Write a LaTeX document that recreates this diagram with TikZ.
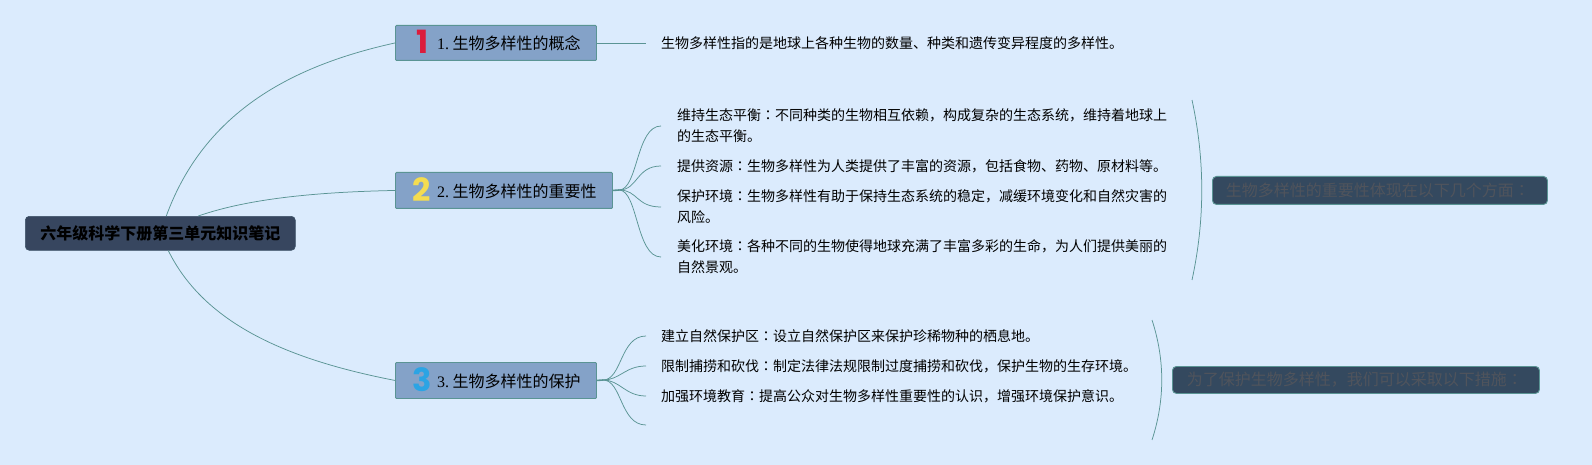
\documentclass[tikz,border=0pt]{standalone}
\usepackage{fontspec}
\setmainfont{Liberation Serif}
\newfontfamily\cjk{Noto Sans CJK SC}
\newfontfamily\cjkc{Noto Sans CJK TC}
\newfontfamily\digit{Poppins}[BoldFont={* Bold}]
\newcommand{\cc}{{\cjkc ：}}
\definecolor{bgc}{HTML}{DBEBFD}
\definecolor{linec}{HTML}{5A9494}
\definecolor{boxc}{HTML}{84A2C8}
\definecolor{rootc}{HTML}{37465F}
\definecolor{sumc}{HTML}{34495F}
\definecolor{sumt}{HTML}{50545C}
\definecolor{icona}{HTML}{DC1C3C}
\definecolor{iconb}{HTML}{F4DC50}
\definecolor{iconc}{HTML}{2CA4E4}
\tikzset{
  conn/.style={draw=linec,line width=0.75pt},
  stub/.style={draw=linec,line width=1.6pt},
  branchbox/.style={draw=linec,line width=0.9pt,fill=boxc,rounded corners=1pt,inner sep=0pt,anchor=north west},
  branchtext/.style={inner sep=0pt,anchor=base west,font=\fontsize{16}{16}\selectfont,text=black},
  icon/.style={inner sep=0pt,anchor=center,font=\digit\bfseries\fontsize{32}{32}\selectfont},
  rootbox/.style={fill=rootc,draw=rootc!85!linec,line width=0.6pt,rounded corners=4pt,inner sep=0pt,anchor=north west},
  sumbox/.style={fill=sumc,draw=linec,line width=0.9pt,rounded corners=4pt,inner sep=0pt,anchor=north west},
  sumtext/.style={inner sep=0pt,anchor=center,text=sumt,font=\cjk\fontsize{16}{16}\selectfont},
  leaf/.style={anchor=west,inner ysep=0pt,inner xsep=16pt,align=left,text=black,font=\cjk\fontsize{14}{21}\selectfont},
  leafb/.style={leaf,inner xsep=15pt},
}
\begin{document}
\begin{tikzpicture}[x=1pt,y=-1pt]
\useasboundingbox[fill=bgc] (0,0) rectangle (1592,465);
% root
\node[rootbox,minimum width=270pt,minimum height=34pt] (root) at (25,216) {};
\node[inner sep=0pt,text=black,font=\cjk\bfseries\fontsize{16}{16}\selectfont] (roottext) at (root.center) {六年级科学下册第三单元知识笔记};
% branches
\node[branchbox,minimum width=201pt,minimum height=35pt] (b1) at (395,25) {};
\node[branchbox,minimum width=217pt,minimum height=36pt] (b2) at (395,172) {};
\node[branchbox,minimum width=201pt,minimum height=36pt] (b3) at (395,362) {};
\node[icon,text=icona] (i1) at (423,42) {1};
\node[icon,text=iconb] (i2) at (422,190) {2};
\node[icon,text=iconc] (i3) at (422,380) {3};
\node[branchtext] (t1) at (437,49.5) {1.\kern3.5pt{\cjk 生物多样性的概念}};
\node[branchtext] (t2) at (437,197.5) {2.\kern3.5pt{\cjk 生物多样性的重要性}};
\node[branchtext] (t3) at (437,387.5) {3.\kern3.5pt{\cjk 生物多样性的保护}};
% root connectors
\draw[conn] ([xshift=6pt]root.north) .. controls (205,110) and (295,65) .. (b1.west);
\draw[conn] ([xshift=38pt]root.north) .. controls (250,198) and (320,192) .. (b2.west);
\draw[conn] ([xshift=8pt]root.south) .. controls (205,325) and (290,360) .. (b3.west);
% leaves
\node[leafb] (c1) at (646,43.5) {生物多样性指的是地球上各种生物的数量、种类和遗传变异程度的多样性。};
\draw[conn] (b1.east) -- (b1.east -| c1.west);
\node[leaf] (l1) at (661,126) {维持生态平衡\cc{}不同种类的生物相互依赖，构成复杂的生态系统，维持着地球上\\的生态平衡。};
\node[leaf] (l2) at (661,166) {提供资源\cc{}生物多样性为人类提供了丰富的资源，包括食物、药物、原材料等。};
\node[leaf] (l3) at (661,207) {保护环境\cc{}生物多样性有助于保持生态系统的稳定，减缓环境变化和自然灾害的\\风险。};
\node[leaf] (l4) at (661,257) {美化环境\cc{}各种不同的生物使得地球充满了丰富多彩的生命，为人们提供美丽的\\自然景观。};
\coordinate (f2) at (619,190);
\draw[stub] (b2.east) -- (f2);
\foreach \n/\y in {l1/126,l2/166,l3/207,l4/257}{
  \draw[conn] (f2) .. controls (638,190) and (636,\y) .. (\n.west);
}
\node[leafb] (m1) at (646,336) {建立自然保护区\cc{}设立自然保护区来保护珍稀物种的栖息地。};
\node[leafb] (m2) at (646,366) {限制捕捞和砍伐\cc{}制定法律法规限制过度捕捞和砍伐，保护生物的生存环境。};
\node[leafb] (m3) at (646,396) {加强环境教育\cc{}提高公众对生物多样性重要性的认识，增强环境保护意识。};
\coordinate (m4) at (646,425);
\coordinate (f3) at (603,380);
\draw[stub] (b3.east) -- (f3);
\draw[conn] (f3) .. controls (622,380) and (620,336) .. (m1.west);
\draw[conn] (f3) .. controls (620,380) and (625,366) .. (m2.west);
\draw[conn] (f3) .. controls (620,380) and (625,396) .. (m3.west);
\draw[conn] (f3) .. controls (622,380) and (620,425) .. (m4);
% summaries
\node[sumbox,minimum width=335pt,minimum height=28pt] (s1) at (1212,176) {};
\node[sumtext] (s1t) at ([xshift=-2pt]s1.center) {生物多样性的重要性体现在以下几个方面{\cjkc ：}};
\node[sumbox,minimum width=367pt,minimum height=27pt] (s2) at (1172,366) {};
\node[sumtext] (s2t) at ([xshift=-1pt]s2.center) {为了保护生物多样性，我们可以采取以下措施{\cjkc ：}};
\coordinate (a1) at (1192,100);
\coordinate (a2) at (1192,280);
\coordinate (a3) at (1152,320);
\coordinate (a4) at (1152,440);
\draw[conn] (a1) .. controls (1205,160) and (1205,220) .. (a2);
\draw[conn] (a3) .. controls (1165,360) and (1165,400) .. (a4);
\end{tikzpicture}
\end{document}
